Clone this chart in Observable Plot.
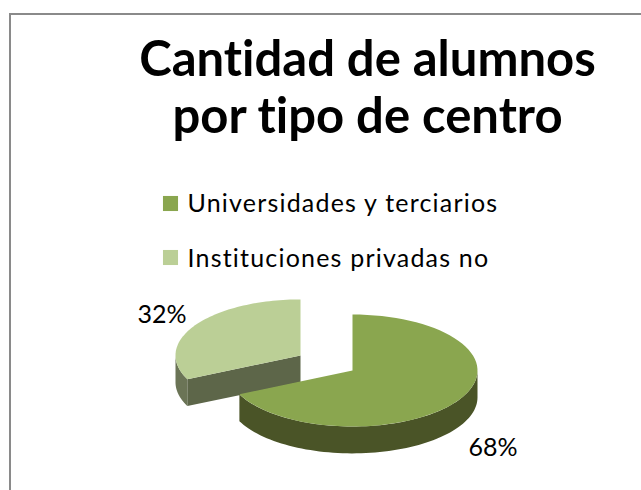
<!DOCTYPE html>
<html><head><meta charset="utf-8">
<script src="https://cdn.jsdelivr.net/npm/d3@7"></script>
<script src="https://cdn.jsdelivr.net/npm/@observablehq/plot@0.6"></script>
<style>
html,body{margin:0;padding:0;background:#fff;overflow:hidden}
#wrap{position:relative;width:641px;height:490px}
#edge{position:absolute;left:9px;top:13px;right:0;bottom:0;border-left:2px solid #8a8a8a;border-top:2px solid #8a8a8a;pointer-events:none}
svg{display:block}
svg text{font-variant-ligatures:none}
</style></head><body>
<div id="wrap"><div id="edge"></div></div>
<script>
const titleLines = ["Cantidad de alumnos", "por tipo de centro"];
const categories = ["Universidades y terciarios", "Instituciones privadas no"];
const shares = [68, 32];
const topColors = ["#8aa64f", "#bbcf96"];
const sideColors = ["#4a5427", "#6b7456"];
const wallColor = "#5d6649";

const depth = 0.48;            // extruded thickness, in pie radii of y
const explode = [[0, 0], [-0.416, 0.27]];   // slice offset, in pie radii

const total = d3.sum(shares);
const ends = Array.from(d3.cumsum(shares), v => v / total * 2 * Math.PI);
const starts = [0, ...ends.slice(0, -1)];
const at = (a, [ox, oy], drop = 0) => ({x: ox + Math.sin(a), y: oy + Math.cos(a) - drop});
const arc = (a0, a1, o, drop = 0) => d3.range(0, 73).map(i => at(a0 + (a1 - a0) * i / 72, o, drop));
const apex = ([ox, oy], drop = 0) => ({x: ox, y: oy - drop});

const topFace = i => [apex(explode[i]), ...arc(starts[i], ends[i], explode[i])];
// outer wall: the part of the rim facing the viewer (between 90° and 270°)
const rimWall = (i, a0, a1) => [...arc(a0, a1, explode[i]), ...arc(a1, a0, explode[i], depth)];
const cutWall = (i, a) => [apex(explode[i]), at(a, explode[i]), at(a, explode[i], depth), apex(explode[i], depth)];

const poly = (pts, fill) => Plot.line(pts, {x: "x", y: "y", fill, stroke: "none", curve: "linear"});
const label = (text, dx, dy, o = {}) => Plot.text([text], {
  text: d => d, frameAnchor: "top-left", dx, dy, textAnchor: "start", lineAnchor: "middle",
  fontFamily: "Lato", fontSize: 25, fill: "#000", ...o
});
const titleStyle = {textAnchor: "middle", fontWeight: 700, fontSize: 49, fontFamily: "Lato"};
const pct = v => v + "%";

const chart = Plot.plot({
  width: 641, height: 490,
  margin: 0,
  style: {background: "transparent"},
  x: {domain: [-1, 1], range: [227, 477], axis: null},
  y: {domain: [-1, 1], range: [426, 314], axis: null},
  marks: [
    // exploded slice first, so that the large slice sits in front of it
    poly(rimWall(1, starts[1], 1.5 * Math.PI), sideColors[1]),
    poly(cutWall(1, starts[1]), wallColor),
    poly(topFace(1), topColors[1]),
    poly(rimWall(0, 0.5 * Math.PI, ends[0]), sideColors[0]),
    poly(topFace(0), topColors[0]),
    label(titleLines[0], 367, 60, titleStyle),
    label(titleLines[1], 367, 117, titleStyle),
    Plot.dot([0], {frameAnchor: "top-left", dx: 170, dy: 203, symbol: "square", r: 8.5, fill: topColors[0], stroke: "none"}),
    Plot.dot([0], {frameAnchor: "top-left", dx: 170, dy: 257, symbol: "square", r: 8.5, fill: topColors[1], stroke: "none"}),
    label(categories[0], 187, 203),
    label(categories[1], 187, 258),
    label(pct(shares[1]), 137, 314),
    label(pct(shares[0]), 468, 447)
  ]
});
chart.querySelectorAll("text").forEach(t => {
  if (categories.includes(t.textContent)) t.style.letterSpacing = "1.2px";
});
document.getElementById("wrap").prepend(chart);
</script>
</body></html>
